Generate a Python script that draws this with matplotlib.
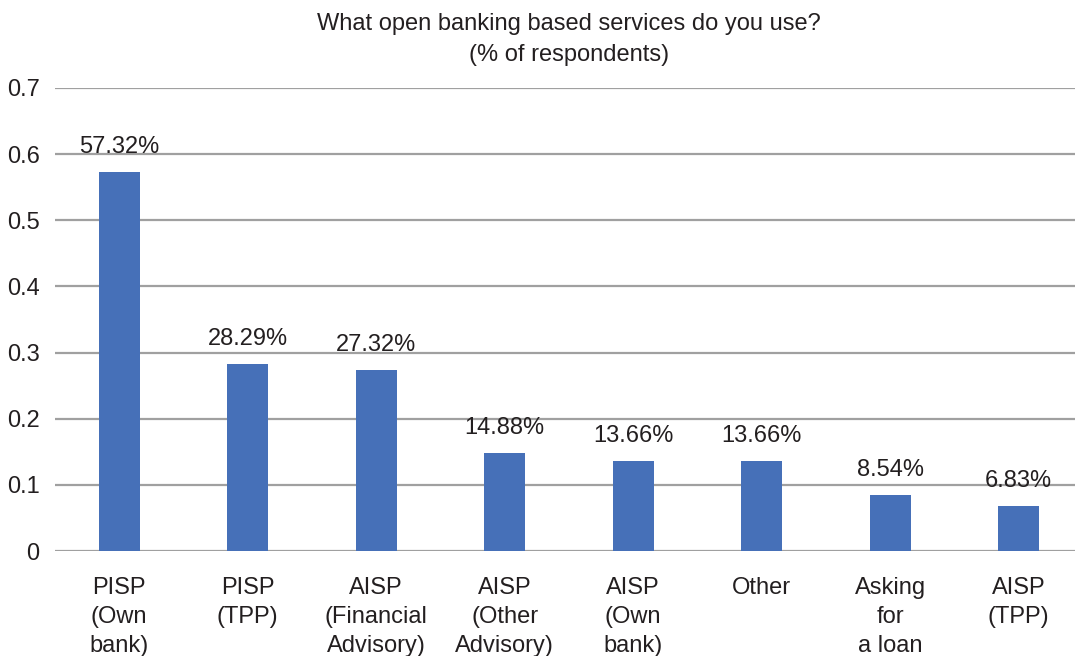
import matplotlib
matplotlib.use("Agg")
import matplotlib.pyplot as plt

categories = ["PISP\n(Own\nbank)", "PISP\n(TPP)", "AISP\n(Financial\nAdvisory)",
              "AISP\n(Other\nAdvisory)", "AISP\n(Own\nbank)", "Other",
              "Asking\nfor\na loan", "AISP\n(TPP)"]
shares = [0.5732, 0.2829, 0.2732, 0.1488, 0.1366, 0.1366, 0.0854, 0.0683]
yticks = [0, 0.1, 0.2, 0.3, 0.4, 0.5, 0.6, 0.7]
ytick_labels = ["0", "0.1", "0.2", "0.3", "0.4", "0.5", "0.6", "0.7"]
title = "What open banking based services do you use?\n(% of respondents)"

plt.rcParams["font.family"] = ["Liberation Sans", "DejaVu Sans"]
text_color = "#231f20"
bar_color = "#4670b8"
grid_color = "#a0a0a0"
fs = 17

fig = plt.figure(figsize=(10.75, 6.56), dpi=100)
ax = fig.add_axes([55 / 1075, 1 - 551 / 656, 1028 / 1075, (551 - 88) / 656])

x = range(len(categories))
ax.bar(x, shares, width=0.32, color=bar_color, zorder=3)
for xi, v in zip(x, shares):
    ax.annotate(f"{v * 100:.2f}%", (xi, v), xytext=(0, 10), textcoords="offset points",
                ha="center", va="bottom", fontsize=fs, color=text_color)

ax.set_xlim(-0.5, 7.5)
ax.set_ylim(0, 0.7)
ax.set_yticks(yticks)
ax.set_yticklabels(ytick_labels)
ax.set_xticks(list(x))
ax.set_xticklabels(categories, linespacing=1.4)
ax.tick_params(axis="both", length=0, labelsize=fs, colors=text_color)
ax.tick_params(axis="y", pad=11)
ax.tick_params(axis="x", pad=19)
for lab in ax.get_xticklabels():
    lab.set_va("top")

ax.grid(axis="y", color=grid_color, linewidth=1.6, zorder=0)
for s in ax.spines.values():
    s.set_visible(False)

fig.text((55 + 1028 / 2) / 1075, 1 - 13 / 656, title, ha="center", va="top",
         fontsize=fs, color=text_color, linespacing=1.5)

fig.savefig("out.png", dpi=100)
